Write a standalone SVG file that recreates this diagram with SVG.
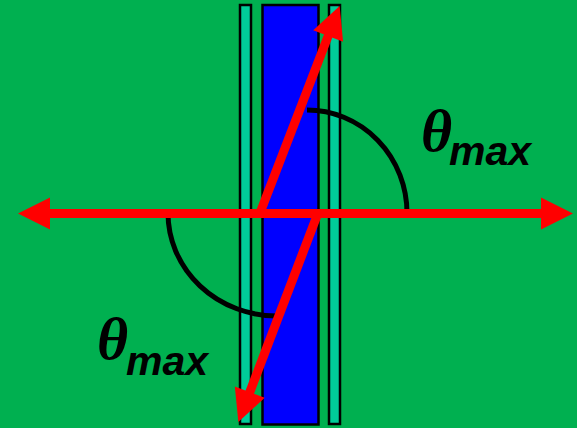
<svg xmlns="http://www.w3.org/2000/svg" width="577" height="428" viewBox="0 0 577 428">
<style>
.slab{fill:#00cc99;stroke:#000;stroke-width:2.5}
.core{fill:#0000ff;stroke:#000;stroke-width:2.5}
.arc{fill:none;stroke:#000;stroke-width:5}
.ray{stroke:#ff0000;stroke-width:9;fill:none}
.th{font-family:"Liberation Serif",serif;font-style:italic;font-weight:bold;font-size:60px;fill:#000}
.sub{font-family:"Liberation Sans",Arial,sans-serif;font-style:italic;font-weight:bold;font-size:41px;fill:#000}
</style>
<defs>
<marker id="ah" viewBox="0 -16 32 32" refX="1" refY="0" markerWidth="32" markerHeight="32" markerUnits="userSpaceOnUse" orient="auto-start-reverse" overflow="visible">
<path d="M0,-16 L32,0 L0,16 Z" fill="#ff0000"/>
</marker>
</defs>
<rect width="577" height="428" fill="#00b050"/>
<g id="slab-left"><rect class="slab" x="240" y="5" width="11" height="419"/></g>
<g id="slab-core"><rect class="core" x="262.5" y="5" width="56" height="419.5"/></g>
<g id="slab-right"><rect class="slab" x="329" y="5" width="11" height="419"/></g>
<g id="angles">
<path class="arc" d="M307,110 A100,103 0 0 1 407,213"/>
<path class="arc" d="M168,213 A109,103 0 0 0 277,316"/>
</g>
<g id="connectors">
<line class="ray" x1="49" y1="213.5" x2="542" y2="213.5" marker-start="url(#ah)" marker-end="url(#ah)"/>
<line class="ray" x1="260" y1="213" x2="328.5" y2="35" marker-end="url(#ah)"/>
<line class="ray" x1="318" y1="213" x2="249.4" y2="393.1" marker-end="url(#ah)"/>
</g>
<g id="label-upper"><text x="421" y="151" class="th">θ</text><text x="449" y="165" class="sub">max</text></g>
<g id="label-lower"><text x="97" y="359" class="th">θ</text><text x="126" y="375" class="sub">max</text></g>
</svg>
